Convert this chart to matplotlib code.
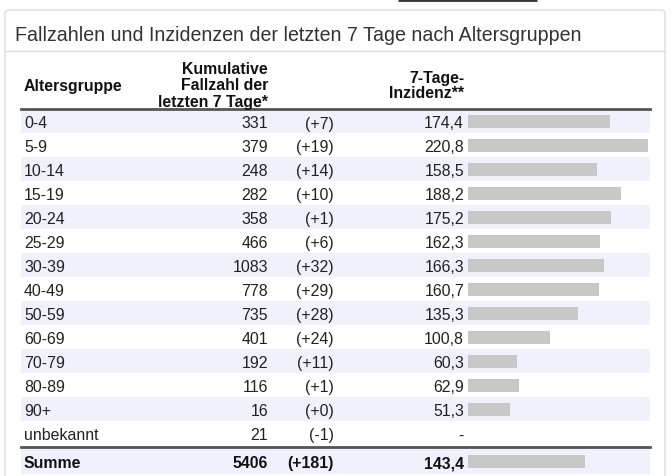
import matplotlib.pyplot as plt
from matplotlib.patches import FancyBboxPatch

plt.rcParams["font.family"] = ["Liberation Sans", "DejaVu Sans"]

title = "Fallzahlen und Inzidenzen der letzten 7 Tage nach Altersgruppen"
age_groups = ["0-4", "5-9", "10-14", "15-19", "20-24", "25-29", "30-39",
              "40-49", "50-59", "60-69", "70-79", "80-89", "90+", "unbekannt"]
cases = [331, 379, 248, 282, 358, 466, 1083, 778, 735, 401, 192, 116, 16, 21]
delta = [7, 19, 14, 10, 1, 6, 32, 29, 28, 24, 11, 1, 0, -1]
incidence = [174.4, 220.8, 158.5, 188.2, 175.2, 162.3, 166.3, 160.7,
             135.3, 100.8, 60.3, 62.9, 51.3, None]
total_cases = 5406
total_delta = 181
total_incidence = 143.4


def fmt_delta(d):
    return "(%+d)" % d


def fmt_inc(v):
    if v is None:
        return "-"
    return ("%.1f" % v).replace(".", ",")


W, H = 672, 477
fig = plt.figure(figsize=(W / 100, H / 100), dpi=100)
ax = fig.add_axes([0, 0, 1, 1])
ax.set_xlim(0, W)
ax.set_ylim(H, 0)
ax.axis("off")

# panel and title
ax.add_patch(FancyBboxPatch((5, 11), 660, 480, boxstyle="round,pad=0,rounding_size=4",
                            fc="white", ec="#dddddd", lw=1))
ax.plot([398, 537], [0.8, 0.8], color="#333333", lw=2, solid_capstyle="butt")
ax.plot([5, 665], [52, 52], color="#dddddd", lw=1)
ax.text(15, 33.5, title, fontsize=14.1, color="#333333", va="center_baseline", ha="left")

# columns
x_age, x_cases, x_delta, x_inc = 24, 268, 334, 464
bar_x0, bar_x1 = 468, 648
row0, row_h = 122, 24
fs = 11.4
dy = 0.5  # text baseline nudge

# header
hdr = dict(fontsize=fs, fontweight="bold", color="#111111", va="center_baseline")
ax.text(x_age, 84 + dy, "Altersgruppe", ha="left", **hdr)
ax.text(x_cases, 68 + dy, "Kumulative", ha="right", **hdr)
ax.text(x_cases, 84 + dy, "Fallzahl der", ha="right", **hdr)
ax.text(x_cases, 100 + dy, "letzten 7 Tage*", ha="right", **hdr)
ax.text(x_inc, 76 + dy, "7-Tage-", ha="right", **hdr)
ax.text(x_inc, 92 + dy, "Inzidenz**", ha="right", **hdr)
ax.plot([21, 650], [109.5, 109.5], color="#555555", lw=2)

ys = [row0 + row_h * i for i in range(len(age_groups))]
y_sum = ys[-1] + row_h + 4
stripe = "#eff1fc"
for i, y in enumerate(ys):
    if i % 2 == 0:
        ax.add_patch(plt.Rectangle((21, y - row_h / 2), 629, row_h, fc=stripe, ec="none"))
ax.add_patch(plt.Rectangle((21, y_sum - 13), 629, 26, fc=stripe, ec="none"))
ax.plot([21, 650], [448, 448], color="#555555", lw=2)

txt = dict(fontsize=fs, color="#222222", va="center_baseline")
for y, a, c, d, v in zip(ys, age_groups, cases, delta, incidence):
    ax.text(x_age, y + dy, a, ha="left", **txt)
    ax.text(x_cases, y + dy, str(c), ha="right", **txt)
    ax.text(x_delta, y + dy, fmt_delta(d), ha="right", **txt)
    ax.text(x_inc, y + dy, fmt_inc(v), ha="right", **txt)

bold = dict(fontsize=fs, color="#111111", va="center_baseline", fontweight="bold")
ax.text(x_age, y_sum + dy, "Summe", ha="left", **bold)
ax.text(x_cases, y_sum + dy, str(total_cases), ha="right", **bold)
ax.text(x_delta, y_sum + dy, fmt_delta(total_delta), ha="right", **bold)
ax.text(x_inc, y_sum + dy, fmt_inc(total_incidence), ha="right", **bold)

# bars
bax = fig.add_axes([bar_x0 / W, 0, (bar_x1 - bar_x0) / W, 1])
bax.set_xlim(0, max(v for v in incidence if v is not None))
bax.set_ylim(H, 0)
bax.axis("off")
bar_y = [y for y, v in zip(ys, incidence) if v is not None]
bar_v = [v for v in incidence if v is not None]
bax.barh(bar_y + [y_sum], bar_v + [total_incidence], height=13, color="#c8c8c8")

fig.savefig("out.png", dpi=100)
